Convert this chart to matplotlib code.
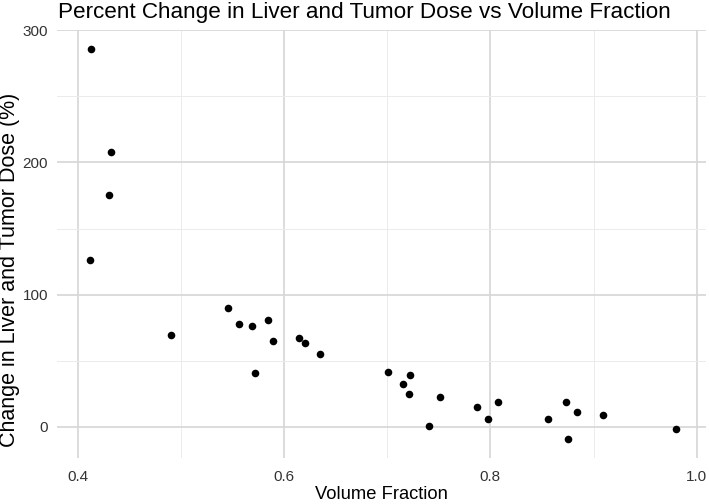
import matplotlib
matplotlib.use('Agg')
from matplotlib import pyplot as plt
from matplotlib.ticker import MultipleLocator

plt.rcParams['font.family'] = ['Liberation Sans', 'DejaVu Sans']

volume_fraction = [
    0.4125, 0.4325, 0.4305, 0.4116, 0.4909, 0.5461, 0.5563, 0.5692, 0.5846,
    0.5897, 0.5720, 0.6148, 0.6199, 0.6353, 0.7012, 0.7221, 0.7154, 0.7209,
    0.7511, 0.7408, 0.7869, 0.7975, 0.8078, 0.8561, 0.8732, 0.8840, 0.8752,
    0.9090, 0.9803,
]
pct_change = [
    285.4, 208.1, 175.5, 126.5, 69.2, 90.2, 77.6, 76.5, 81.1,
    64.7, 40.9, 67.0, 63.4, 54.8, 41.7, 38.9, 32.1, 24.8,
    22.5, 0.8, 14.7, 5.8, 18.9, 6.3, 18.7, 11.4, -8.8,
    9.1, -1.2,
]
x_ticks = [0.4, 0.6, 0.8, 1.0]
x_tick_labels = ['0.4', '0.6', '0.8', '1.0']
y_ticks = [0, 100, 200, 300]

W, H = 709, 504
fig = plt.figure(figsize=(W / 100, H / 100), dpi=100)
ax = fig.add_axes([57 / W, 1 - 458 / H, (706 - 57) / W, (458 - 30) / H])

ax.scatter(volume_fraction, pct_change, s=30, color='black', zorder=3, linewidths=0)

ax.set_xlim(0.3800, 1.0089)
ax.set_ylim(-23.5, 300.1)
ax.set_xticks(x_ticks)
ax.set_xticklabels(x_tick_labels)
ax.set_yticks(y_ticks)
ax.xaxis.set_minor_locator(MultipleLocator(0.1))
ax.yaxis.set_minor_locator(MultipleLocator(50))

ax.grid(which='major', color='#d6d6d6', linewidth=1.2)
ax.grid(which='minor', color='#ebebeb', linewidth=0.7)
ax.set_axisbelow(True)
for sp in ax.spines.values():
    sp.set_visible(False)
ax.tick_params(which='both', length=0, labelsize=11, labelcolor='#333333')
ax.tick_params(axis='y', pad=6.5)
ax.tick_params(axis='x', pad=8.5)

fig.text(58 / W, 1 - 18 / H, 'Percent Change in Liver and Tumor Dose vs Volume Fraction',
         fontsize=16.2, ha='left', va='baseline')
fig.text(381 / W, 1 - 499 / H, 'Volume Fraction', fontsize=13.2, ha='center', va='baseline')
fig.text(10 / W, 1 - 270 / H, 'Change in Liver and Tumor Dose (%)', fontsize=15.5,
         rotation=90, ha='center', va='center')

plt.savefig('out.png', dpi=100)
